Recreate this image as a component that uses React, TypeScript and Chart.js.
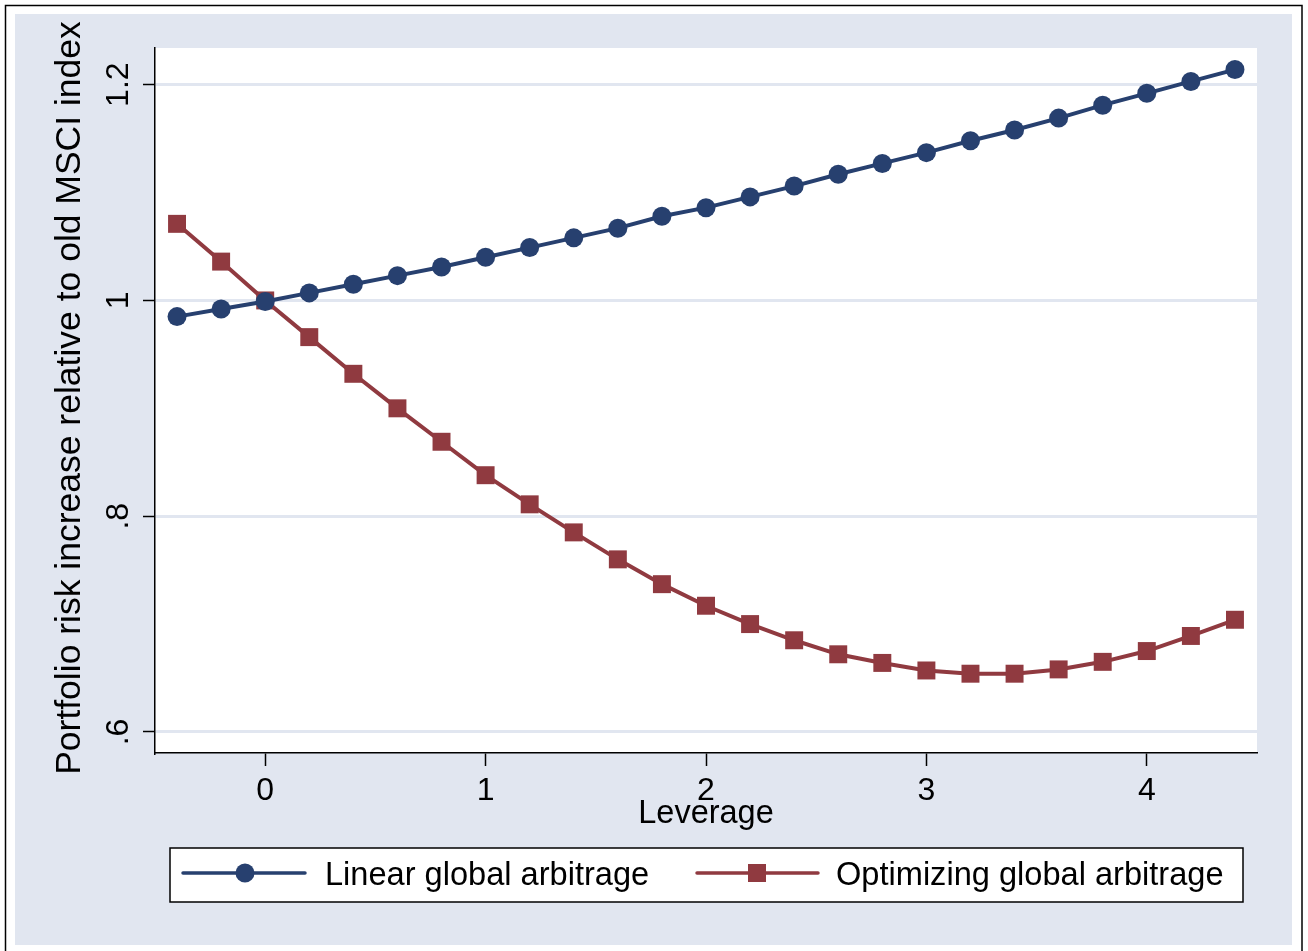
import React, { useEffect, useRef } from "react";
import { Chart, registerables } from "chart.js";

Chart.register(...registerables);

const leverage = [-0.4, -0.2, 0, 0.2, 0.4, 0.6, 0.8, 1.0, 1.2, 1.4, 1.6, 1.8, 2.0, 2.2, 2.4, 2.6, 2.8, 3.0, 3.2, 3.4, 3.6, 3.8, 4.0, 4.2, 4.4];
const linearArb = [0.985, 0.992, 0.999, 1.007, 1.015, 1.023, 1.031, 1.040, 1.049, 1.058, 1.067, 1.078, 1.086, 1.096, 1.106, 1.117, 1.127, 1.137, 1.148, 1.158, 1.169, 1.181, 1.192, 1.203, 1.214];
const optimizingArb = [1.071, 1.036, 1.0, 0.966, 0.932, 0.900, 0.869, 0.838, 0.811, 0.785, 0.760, 0.737, 0.717, 0.700, 0.685, 0.672, 0.664, 0.657, 0.654, 0.654, 0.658, 0.665, 0.675, 0.689, 0.704];
const seriesNames = ["Linear global arbitrage", "Optimizing global arbitrage"];
const xTicks = [0, 1, 2, 3, 4];
const xTickLabels = ["0", "1", "2", "3", "4"];
const yTicks = [0.6, 0.8, 1.0, 1.2];
const yTickLabels = [".6", ".8", "1", "1.2"];
const xTitle = "Leverage";
const yTitle = "Portfolio risk increase relative to old MSCI index";

const FONT = '"Liberation Sans", Arial, Helvetica, sans-serif';
const BLUE = "#27406f";
const RED = "#903a40";
const BG = "#e1e6f0";
const GRID = "#e1e6f0";

const decorPlugin = {
  id: "decor",
  beforeDraw(chart: any) {
    const { ctx, width, height, chartArea } = chart;
    ctx.save();
    ctx.fillStyle = "#ffffff";
    ctx.fillRect(0, 0, width, height);
    ctx.strokeStyle = "#000";
    ctx.lineWidth = 1.5;
    ctx.strokeRect(5.5, 5.5, width - 11.5, height - 4);
    ctx.fillStyle = BG;
    ctx.fillRect(15, 14, width - 31, height - 20);
    ctx.fillStyle = "#ffffff";
    ctx.fillRect(chartArea.left, chartArea.top, chartArea.right - chartArea.left, chartArea.bottom - chartArea.top);
    ctx.restore();
  },
  afterDraw(chart: any) {
    const { ctx, chartArea } = chart;
    const xs = chart.scales.x;
    const ys = chart.scales.y;
    ctx.save();
    ctx.fillStyle = "#000";
    ctx.font = `32px ${FONT}`;
    ctx.textAlign = "center";
    ctx.textBaseline = "alphabetic";
    xTicks.forEach((v, i) => {
      ctx.fillText(xTickLabels[i], xs.getPixelForValue(v), 800);
    });
    ctx.font = `32.5px ${FONT}`;
    ctx.fillText(xTitle, (chartArea.left + chartArea.right) / 2, 823);
    ctx.font = `32px ${FONT}`;
    yTicks.forEach((v, i) => {
      ctx.save();
      ctx.translate(128, ys.getPixelForValue(v));
      ctx.rotate(-Math.PI / 2);
      ctx.textAlign = "center";
      ctx.fillText(yTickLabels[i], 0, 0);
      ctx.restore();
    });
    ctx.save();
    ctx.font = `35.5px ${FONT}`;
    ctx.translate(80, 398);
    ctx.rotate(-Math.PI / 2);
    ctx.textAlign = "center";
    ctx.fillText(yTitle, 0, 0);
    ctx.restore();

    // legend
    const lx = 170, ly = 848, lw = 1073, lh = 54;
    ctx.fillStyle = "#fff";
    ctx.fillRect(lx, ly, lw, lh);
    ctx.strokeStyle = "#000";
    ctx.lineWidth = 1.5;
    ctx.strokeRect(lx, ly, lw, lh);
    const cy = 873;
    const entries = [
      { x0: 183, x1: 305, mx: 245, tx: 325 },
      { x0: 697, x1: 818, mx: 757, tx: 836 },
    ];
    ctx.font = `32.6px ${FONT}`;
    chart.data.datasets.forEach((ds: any, i: number) => {
      const e = entries[i];
      ctx.strokeStyle = ds.borderColor;
      ctx.lineWidth = 3.5;
      ctx.lineCap = "round";
      ctx.beginPath();
      ctx.moveTo(e.x0, cy);
      ctx.lineTo(e.x1, cy);
      ctx.stroke();
      ctx.fillStyle = ds.backgroundColor;
      if (ds.pointStyle === "circle") {
        ctx.beginPath();
        ctx.arc(e.mx, cy, 9.5, 0, Math.PI * 2);
        ctx.fill();
      } else {
        ctx.fillRect(e.mx - 9, cy - 9, 18, 18);
      }
      ctx.fillStyle = "#000";
      ctx.textAlign = "left";
      ctx.fillText(ds.label, e.tx, 885);
    });
    ctx.restore();
  },
};

export default function App() {
  const ref = useRef<HTMLCanvasElement | null>(null);
  useEffect(() => {
    document.body.style.margin = "0";
    const canvas = ref.current!;
    const chart = new Chart(canvas, {
      type: "line",
      data: {
        datasets: [
          {
            label: seriesNames[0],
            data: leverage.map((x, i) => ({ x, y: linearArb[i] })),
            borderColor: BLUE,
            backgroundColor: BLUE,
            borderWidth: 4,
            pointStyle: "circle",
            pointRadius: 9.5,
            pointBorderWidth: 0,
            pointHoverRadius: 9.5,
            tension: 0,
          },
          {
            label: seriesNames[1],
            data: leverage.map((x, i) => ({ x, y: optimizingArb[i] })),
            borderColor: RED,
            backgroundColor: RED,
            borderWidth: 4,
            pointStyle: "rect",
            pointRadius: 12.7,
            pointBorderWidth: 0,
            pointHoverRadius: 12.7,
            tension: 0,
          },
        ],
      },
      options: {
        animation: false,
        responsive: false,
        devicePixelRatio: 1,
        events: [],
        layout: { padding: { left: 0, top: 48, right: 51, bottom: 0 } },
        plugins: {
          legend: { display: false },
          tooltip: { enabled: false },
          title: { display: false },
        },
        scales: {
          x: {
            type: "linear",
            min: -0.5,
            max: 4.5,
            afterBuildTicks: (s: any) => {
              s.ticks = xTicks.map((v) => ({ value: v }));
            },
            afterFit: (s: any) => {
              s.height = 198;
            },
            ticks: { display: false },
            grid: {
              drawOnChartArea: false,
              drawTicks: true,
              tickLength: 13,
              tickColor: "#000",
              tickWidth: 1.5,
            },
            border: { display: true, color: "#000", width: 1.5 },
          },
          y: {
            type: "linear",
            min: 0.5805,
            max: 1.234,
            afterBuildTicks: (s: any) => {
              s.ticks = yTicks.map((v) => ({ value: v }));
            },
            afterFit: (s: any) => {
              s.width = 155;
            },
            ticks: { display: false },
            grid: {
              drawOnChartArea: true,
              color: GRID,
              lineWidth: 3,
              drawTicks: true,
              tickLength: 12,
              tickColor: "#000",
              tickWidth: 1.5,
            },
            border: { display: true, color: "#000", width: 1.5 },
          },
        },
      },
      plugins: [decorPlugin],
    });
    return () => chart.destroy();
  }, []);
  return <canvas ref={ref} width={1308} height={951} style={{ display: "block" }} />;
}
